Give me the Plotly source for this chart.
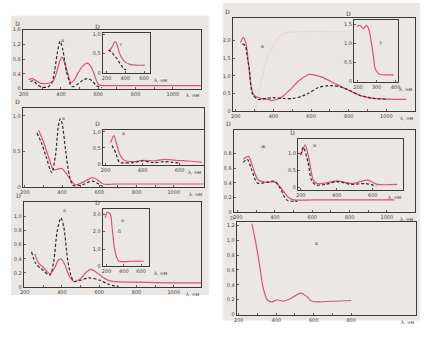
import plotly.graph_objects as go

# ---------------- DATA ----------------
# Panel 1 (top left)
p1_red_wl = [226, 247, 270, 295, 340, 358, 375, 392, 405, 420, 437, 453, 470, 490, 515, 542, 560, 577, 603, 650, 800, 1000, 1150]
p1_red_D = [0.24, 0.27, 0.2, 0.14, 0.15, 0.2, 0.41, 0.72, 0.85, 0.7, 0.41, 0.16, 0.22, 0.41, 0.6, 0.69, 0.6, 0.41, 0.1, 0.08, 0.08, 0.08, 0.08]
p1_blk_wl = [235, 252, 270, 295, 330, 350, 365, 380, 395, 410, 430, 460, 490, 515, 540, 565, 590, 620]
p1_blk_D = [0.19, 0.21, 0.12, 0.04, 0.04, 0.15, 0.45, 0.95, 1.28, 1.05, 0.45, 0.05, 0.12, 0.22, 0.27, 0.22, 0.08, 0.02]
i1_red_wl = [230, 260, 280, 295, 315, 335, 360, 400, 450, 505, 610]
i1_red_D = [0.59, 0.68, 0.78, 0.82, 0.72, 0.54, 0.4, 0.28, 0.22, 0.2, 0.2]
i1_blk_wl = [220, 250, 285, 310, 335, 360, 390, 410]
i1_blk_D = [0.6, 0.55, 0.45, 0.38, 0.28, 0.18, 0.1, 0.08]

# Panel 2 (middle left)
p2_blk_wl = [265, 290, 315, 345, 365, 380, 390, 400, 420, 440, 460, 490, 520, 545, 565, 590, 620]
p2_blk_D = [0.76, 0.62, 0.42, 0.2, 0.45, 0.85, 0.96, 0.9, 0.5, 0.15, 0.02, 0.02, 0.04, 0.07, 0.08, 0.05, 0.0]
p2_red_wl = [274, 300, 325, 355, 375, 398, 420, 445, 470, 500, 530, 565, 595, 620, 700, 900, 1160]
p2_red_D = [0.8, 0.64, 0.44, 0.24, 0.25, 0.26, 0.2, 0.1, 0.03, 0.05, 0.09, 0.13, 0.09, 0.04, 0.04, 0.04, 0.04]
i2_red_wl = [228, 245, 260, 275, 300, 350, 400, 460, 520, 580, 650, 720]
i2_red_D = [0.67, 0.88, 0.62, 0.33, 0.12, 0.08, 0.12, 0.1, 0.15, 0.12, 0.1, 0.06]
i2_blk_wl = [235, 255, 275, 300, 350, 400, 460, 520, 560, 600]
i2_blk_D = [0.58, 0.35, 0.06, 0.04, 0.05, 0.1, 0.05, 0.08, 0.06, 0.04]

# Panel 3 (bottom left)
p3_blk_wl = [237, 260, 290, 335, 355, 375, 395, 410, 430, 450, 465, 500, 545, 600, 650, 705]
p3_blk_D = [0.5, 0.33, 0.26, 0.17, 0.35, 0.8, 0.98, 0.85, 0.4, 0.15, 0.08, 0.1, 0.13, 0.1, 0.04, 0.0]
p3_red_wl = [255, 275, 300, 335, 360, 380, 395, 415, 440, 465, 500, 530, 555, 590, 630, 670, 800, 1000, 1150]
p3_red_D = [0.47, 0.34, 0.28, 0.19, 0.27, 0.38, 0.4, 0.32, 0.15, 0.08, 0.12, 0.21, 0.25, 0.2, 0.12, 0.08, 0.07, 0.06, 0.06]
i3_red_wl = [185, 205, 225, 245, 265, 290, 315, 345, 400, 500, 630]
i3_red_D = [2.8, 3.1, 3.1, 3.0, 2.2, 1.1, 0.55, 0.3, 0.28, 0.3, 0.3]

# Panel 4 (top right)
p4_red_wl = [225, 240, 255, 268, 280, 295, 330, 370, 392, 444, 497, 540, 593, 654, 723, 792, 863, 933, 1010, 1106]
p4_red_D = [1.94, 2.08, 1.9, 1.3, 0.75, 0.47, 0.36, 0.33, 0.3, 0.4, 0.65, 0.88, 1.04, 0.97, 0.79, 0.61, 0.44, 0.36, 0.34, 0.33]
p4_blk_wl = [235, 250, 262, 272, 290, 320, 360, 400, 450, 505, 550, 585, 640, 690, 715, 760, 800, 863, 933, 1000]
p4_blk_D = [1.9, 1.85, 1.5, 1.2, 0.47, 0.33, 0.36, 0.38, 0.36, 0.36, 0.42, 0.5, 0.67, 0.72, 0.72, 0.68, 0.6, 0.44, 0.36, 0.34]
p4_ghost_wl = [305, 331, 373, 446, 530, 700, 813]
p4_ghost_D = [0.0, 0.75, 1.58, 2.17, 2.25, 2.25, 2.25]
i4_red_wl = [195, 210, 230, 245, 255, 265, 282, 292, 312, 340, 390]
i4_red_D = [1.45, 1.48, 1.4, 1.48, 1.42, 1.22, 0.7, 0.34, 0.2, 0.18, 0.18]

# Panel 5 (middle right)
p5_red_wl = [230, 258, 280, 310, 350, 400, 430, 470, 500, 600, 800, 1040]
p5_red_D = [0.72, 0.76, 0.62, 0.44, 0.41, 0.41, 0.34, 0.21, 0.17, 0.17, 0.17, 0.17]
p5_blk_wl = [230, 252, 275, 305, 340, 400, 430, 462, 505, 520]
p5_blk_D = [0.68, 0.72, 0.58, 0.4, 0.4, 0.42, 0.32, 0.17, 0.15, 0.15]
i5_red_wl = [205, 225, 248, 270, 293, 340, 400, 485, 570, 625, 735]
i5_red_D = [1.0, 1.25, 0.78, 0.22, 0.12, 0.14, 0.2, 0.12, 0.22, 0.1, 0.1]
i5_blk_wl = [200, 215, 240, 260, 285, 340, 400, 480, 560, 620]
i5_blk_D = [0.95, 1.18, 0.75, 0.22, 0.08, 0.1, 0.18, 0.1, 0.12, 0.05]

# Panel 6 (bottom right)
p6_red_wl = [270, 285, 300, 315, 327, 340, 352, 375, 405, 437, 480, 530, 560, 590, 700, 800]
p6_red_D = [1.22, 1.04, 0.84, 0.6, 0.4, 0.27, 0.2, 0.17, 0.2, 0.18, 0.22, 0.29, 0.25, 0.18, 0.18, 0.19]

# tick values / labels
main_x_vals = [200, 300, 400, 500, 600, 700, 800, 900, 1000]
main_x_text = ["200", "", "400", "", "600", "", "800", "", "1000"]
p6_x_vals = [200, 300, 400, 500, 600, 700, 800]
p6_x_text = ["200", "", "400", "", "600", "", "800"]
inset_x_vals = [200, 400, 600]
inset_x_text = ["200", "400", "600"]
i4_x_vals = [200, 300, 400]
i4_x_text = ["200", "300", "400"]
p1_y_vals = [0, 0.4, 0.8, 1.2, 1.6]
p1_y_text = ["0", "0,4", "0,8", "1,2", "1,6"]
p2_y_vals = [0, 0.5, 1.0]
p2_y_text = ["0", "0,5", "1,0"]
p3_y_vals = [0, 0.2, 0.4, 0.6, 0.8, 1.0]
p3_y_text = ["0", "0,2", "0,4", "0,6", "0,8", "1,0"]
p4_y_vals = [0, 0.5, 1.0, 1.5, 2.0]
p4_y_text = ["0", "0,5", "1,0", "1,5", "2,0"]
p5_y_vals = [0, 0.2, 0.4, 0.6, 0.8]
p5_y_text = ["0", "0,2", "0,4", "0,6", "0,8"]
p6_y_vals = [0, 0.2, 0.4, 0.6, 0.8, 1.0, 1.2]
p6_y_text = ["0", "0,2", "0,4", "0,6", "0,8", "1,0", "1,2"]
i1_y_vals = [0, 0.5, 1.0]
i1_y_text = ["0", "0,5", "1,0"]
i3_y_vals = [0, 1, 2, 3]
i3_y_text = ["0", "1,0", "2,0", "3,0"]
i4_y_vals = [0, 0.5, 1.0, 1.5]
i4_y_text = ["0", "0,5", "1,0", "1,5"]

# ---------------- FIGURE ----------------
W, H = 429, 355
RED = "#e0507a"
BLK = "#2a2a3a"
FRAME = "#3a3a3a"
TXT = "#444444"
BG = "#ebe7e5"
DASH = "3px,2px"

def fx(p):
    return p / W

def fy(p):
    return 1 - p / H

fig = go.Figure()
layout = {}
annotations = []

# box px: left, top, right, bottom; label placement for "λ, нм" (x px, anchor)
axes_specs = [
    dict(box=(19, 27, 200, 87), xr=(195, 1152), yr=(0, 1.6), xv=main_x_vals, xt=main_x_text, yv=p1_y_vals, yt=p1_y_text, lam=(200, "right")),
    dict(box=(19, 107, 203, 187), xr=(189, 1163), yr=(0, 1.11), xv=main_x_vals, xt=main_x_text, yv=p2_y_vals, yt=p2_y_text, lam=(203, "right")),
    dict(box=(20, 202, 200, 289), xr=(195, 1147), yr=(0, 1.21), xv=main_x_vals, xt=main_x_text, yv=p3_y_vals, yt=p3_y_text, lam=(200, "right")),
    dict(box=(232, 15, 417, 110), xr=(184, 1153), yr=(0, 2.64), xv=main_x_vals, xt=main_x_text, yv=p4_y_vals, yt=p4_y_text, lam=(417, "right")),
    dict(box=(233, 129, 417, 213), xr=(179, 1152), yr=(0, 1.12), xv=main_x_vals, xt=main_x_text, yv=p5_y_vals, yt=p5_y_text, lam=(417, "right")),
    dict(box=(236, 223, 418, 317), xr=(189, 1147), yr=(0, 1.24), xv=p6_x_vals, xt=p6_x_text, yv=p6_y_vals, yt=p6_y_text, lam=(418, "right")),
    dict(box=(100, 31, 148, 71), xr=(158, 663), yr=(0, 1.03), xv=inset_x_vals, xt=inset_x_text, yv=i1_y_vals, yt=i1_y_text, lam=(150, "left")),
    dict(box=(100, 129, 203, 165), xr=(184, 733), yr=(-0.03, 1.06), xv=inset_x_vals, xt=inset_x_text, yv=i1_y_vals, yt=i1_y_text, lam=(202, "right")),
    dict(box=(100, 210, 147, 268), xr=(154, 691), yr=(0, 3.28), xv=inset_x_vals, xt=inset_x_text, yv=i3_y_vals, yt=i3_y_text, lam=(150, "left")),
    dict(box=(355, 17, 400, 80), xr=(179, 416), yr=(0, 1.63), xv=i4_x_vals, xt=i4_x_text, yv=i4_y_vals, yt=i4_y_text, lam=(399, "left")),
    dict(box=(298, 138, 405, 190), xr=(184, 770), yr=(-0.06, 1.43), xv=inset_x_vals, xt=inset_x_text, yv=i1_y_vals, yt=i1_y_text, lam=(405, "right")),
]

for i, s in enumerate(axes_specs, start=1):
    l, t, r, b = s["box"]
    sfx = "" if i == 1 else str(i)
    common = dict(showgrid=False, zeroline=False, showline=True, linecolor=FRAME, linewidth=1,
                  mirror=True, ticks="inside", ticklen=2, tickcolor="#b0306a", tickwidth=1,
                  tickfont=dict(size=5, color=TXT, family="DejaVu Sans"), fixedrange=True)
    layout["xaxis" + sfx] = dict(domain=[fx(l), fx(r)], range=list(s["xr"]), anchor="y" + sfx,
                                 tickmode="array", tickvals=s["xv"], ticktext=s["xt"], **common)
    layout["yaxis" + sfx] = dict(domain=[fy(b), fy(t)], range=list(s["yr"]), anchor="x" + sfx,
                                 tickmode="array", tickvals=s["yv"], ticktext=s["yt"], **common)
    if i == 6:
        annotations.append(dict(text="D", x=fx(l - 1), y=fy(t + 1), xref="paper", yref="paper",
                                showarrow=False, font=dict(size=5, color=TXT, family="DejaVu Serif"),
                                xanchor="right", yanchor="bottom"))
    else:
        annotations.append(dict(text="D", x=fx(l - 1), y=fy(t - 1), xref="paper", yref="paper",
                                showarrow=False, font=dict(size=6, color=TXT, family="DejaVu Serif"),
                                xanchor="right", yanchor="bottom"))
    lx, anc = s["lam"]
    annotations.append(dict(text="λ, нм", x=fx(lx), y=fy(b + 2), xref="paper", yref="paper",
                            showarrow=False, font=dict(size=5, color=TXT, family="DejaVu Sans"),
                            xanchor=anc, yanchor="top"))

def add(xs, ys, ax, color, dash="solid", width=1.2, opacity=1.0):
    sfx = "" if ax == 1 else str(ax)
    fig.add_trace(go.Scatter(x=xs, y=ys, xaxis="x" + sfx, yaxis="y" + sfx, mode="lines",
                             line=dict(color=color, width=width, dash=dash, shape="spline", smoothing=0.8),
                             opacity=opacity, showlegend=False, hoverinfo="skip"))

add(p1_red_wl, p1_red_D, 1, RED)
add(p1_blk_wl, p1_blk_D, 1, BLK, DASH)
add(p2_red_wl, p2_red_D, 2, RED)
add(p2_blk_wl, p2_blk_D, 2, BLK, DASH)
add(p3_red_wl, p3_red_D, 3, RED)
add(p3_blk_wl, p3_blk_D, 3, BLK, DASH)
add(p4_ghost_wl, p4_ghost_D, 4, "#e8c4cc", width=1.3, opacity=0.45)
add(p4_red_wl, p4_red_D, 4, RED)
add(p4_blk_wl, p4_blk_D, 4, BLK, DASH)
add(p5_red_wl, p5_red_D, 5, RED)
add(p5_blk_wl, p5_blk_D, 5, BLK, DASH)
add(p6_red_wl, p6_red_D, 6, RED)
add(i1_red_wl, i1_red_D, 7, RED)
add(i1_blk_wl, i1_blk_D, 7, BLK, DASH)
add(i2_red_wl, i2_red_D, 8, RED)
add(i2_blk_wl, i2_blk_D, 8, BLK, DASH)
add(i3_red_wl, i3_red_D, 9, RED)
add(i4_red_wl, i4_red_D, 10, RED)
add(i5_red_wl, i5_red_D, 11, RED)
add(i5_blk_wl, i5_blk_D, 11, BLK, DASH)

# small curve letters
letters = [("а", 56, 33), ("г", 116, 37), ("а", 57, 112), ("а", 118, 132), ("а", 58, 211), ("а", 117, 221),
           ("б", 114, 237), ("в", 262, 39), ("з", 385, 35), ("ж", 263, 145), ("и", 319, 144), ("к", 322, 249)]
for t, x, y in letters:
    annotations.append(dict(text=t, x=fx(x), y=fy(y), xref="paper", yref="paper", showarrow=False,
                            font=dict(size=5, color=TXT, family="DejaVu Serif")))

shapes = [
    dict(type="rect", xref="paper", yref="paper", x0=fx(7), x1=fx(208), y0=fy(297), y1=fy(13),
         fillcolor=BG, line=dict(width=0), layer="below"),
    dict(type="rect", xref="paper", yref="paper", x0=fx(222), x1=fx(422), y0=fy(323), y1=fy(0),
         fillcolor=BG, line=dict(width=0), layer="below"),
]

fig.update_layout(width=W, height=H, margin=dict(l=0, r=0, t=0, b=0), paper_bgcolor="white",
                  plot_bgcolor="rgba(0,0,0,0)", showlegend=False, annotations=annotations, shapes=shapes,
                  **layout)
fig.write_html("out.html", config={"displayModeBar": False})
